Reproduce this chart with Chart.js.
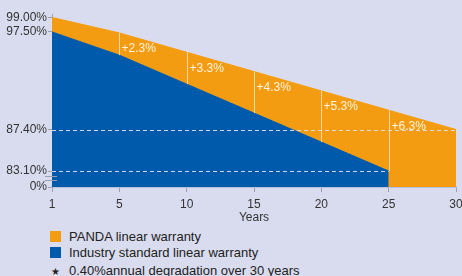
<!DOCTYPE html>
<html>
<head>
<meta charset="utf-8">
<script src="https://cdn.jsdelivr.net/npm/chart.js@4.4.1/dist/chart.umd.min.js"></script>
<style>
  body { margin: 0; background: #d9dcee; font-family: "Liberation Sans", Arial, sans-serif; }
  #wrap { position: relative; width: 462px; height: 276px; overflow: hidden; }
  #box { position: absolute; left: 0; top: 0; width: 462px; height: 225px; }
  .legend { position: absolute; left: 50px; font-size: 13px; color: #222; }
  .legend div { height: 16px; line-height: 16px; white-space: nowrap; }
  .sw { display: inline-block; width: 11px; height: 11px; vertical-align: -1px; margin-right: 8px; }
  .star { display: inline-block; width: 11px; margin-right: 8px; font-size: 10px; text-align: center; }
</style>
</head>
<body>
<div id="wrap">
  <div id="box"><canvas id="chart"></canvas></div>
  <div class="legend" style="top:229px">
    <div><span class="sw" style="background:#f39c12"></span>PANDA linear warranty</div>
    <div><span class="sw" style="background:#005aab"></span>Industry standard linear warranty</div>
    <div style="margin-top:2px"><span class="star">★</span>0.40%annual degradation over 30 years</div>
  </div>
</div>
<script>
// years shown on the x axis
const years = ["1", "5", "10", "15", "20", "25", "30"];
// guaranteed output (%)
const pandaWarranty = [99, 97.4, 95.4, 93.4, 91.4, 89.4, 87.4];
const industryWarranty = [97.5, 95.1, 92.1, 89.1, 86.1, 83.1, null];
// y tick values, the lowest one stands for the broken "0%"
const yTicks = [83.1, 87.4, 97.5, 99];
const yMin = 81.45;
const yMax = 99.36;

const orange = "#f39c12";
const blue = "#005aab";

// dashed guides, differences, axis break
const overlays = {
  id: "overlays",
  afterDatasetsDraw(chart) {
    const ctx = chart.ctx;
    const x = chart.scales.x;
    const y = chart.scales.y;
    const area = chart.chartArea;
    const top = chart.getDatasetMeta(1).data;   // panda
    const low = chart.getDatasetMeta(0).data;   // industry
    ctx.save();

    // dashed lines at the end values
    ctx.strokeStyle = "rgba(215,222,240,0.95)";
    ctx.lineWidth = 1;
    ctx.setLineDash([4, 3]);
    let yy = Math.round(y.getPixelForValue(87.4)) + 0.5;
    ctx.beginPath();
    ctx.moveTo(area.left, yy);
    ctx.lineTo(area.right, yy);
    ctx.stroke();
    yy = Math.round(y.getPixelForValue(83.1)) + 0.5;
    ctx.beginPath();
    ctx.moveTo(area.left, yy);
    ctx.lineTo(x.getPixelForValue(5), yy);
    ctx.stroke();
    ctx.setLineDash([]);

    // vertical dividers and gain labels
    ctx.strokeStyle = "rgba(250,225,180,0.9)";
    ctx.fillStyle = "#fff4e0";
    ctx.font = "12px 'Liberation Sans', Arial, sans-serif";
    ctx.textBaseline = "top";
    for (let i = 1; i < years.length - 1; i++) {
      const px = Math.round(top[i].x) + 0.5;
      ctx.beginPath();
      ctx.moveTo(px, top[i].y);
      ctx.lineTo(px, low[i].y);
      ctx.stroke();
      const gain = (pandaWarranty[i] - industryWarranty[i]).toFixed(1);
      ctx.fillText("+" + gain + "%", px + 2, top[i].y + 10);
    }

    // y axis break marks
    ctx.strokeStyle = "#9aa0b0";
    ctx.lineWidth = 1;
    [area.bottom - 10.5, area.bottom - 6.5].forEach((b) => {
      ctx.beginPath();
      ctx.moveTo(area.left - 7, b);
      ctx.lineTo(area.left + 5, b);
      ctx.stroke();
    });
    ctx.restore();
  },
};

new Chart(document.getElementById("chart"), {
  type: "line",
  data: {
    labels: years,
    datasets: [
      {
        label: "Industry standard linear warranty",
        data: industryWarranty,
        borderColor: blue,
        backgroundColor: blue,
        borderWidth: 1,
        pointRadius: 0,
        fill: "origin",
      },
      {
        label: "PANDA linear warranty",
        data: pandaWarranty,
        borderColor: orange,
        backgroundColor: orange,
        borderWidth: 1,
        pointRadius: 0,
        fill: "origin",
      },
    ],
  },
  options: {
    responsive: true,
    maintainAspectRatio: false,
    animation: false,
    layout: { padding: { top: 14, right: 0, left: 0, bottom: 0 } },
    plugins: { legend: { display: false }, tooltip: { enabled: false } },
    scales: {
      x: {
        type: "category",
        offset: false,
        afterFit(scale) {
          scale.height = 38;
          scale.paddingLeft = 0;
          scale.paddingRight = 6;
        },
        grid: { drawOnChartArea: false, color: "#9aa0b0", tickLength: 5 },
        border: { color: "#b3bfdc", width: 2 },
        ticks: { color: "#333", font: { size: 12 }, padding: 5, maxRotation: 0, autoSkip: false },
        title: { display: true, text: "Years", color: "#333", font: { size: 12 }, padding: { top: 0, bottom: 0 } },
      },
      y: {
        min: yMin,
        max: yMax,
        afterFit(scale) { scale.width = 52; },
        afterBuildTicks(scale) {
          scale.ticks = [yMin].concat(yTicks).map((v) => ({ value: v }));
        },
        grid: { drawOnChartArea: false, color: "#9aa0b0", tickLength: 4 },
        border: { color: "#a0a6b8", width: 1 },
        ticks: {
          color: "#333",
          font: { size: 12 },
          padding: 1,
          callback: (v) => (v === yMin ? "0%" : v.toFixed(2) + "%"),
        },
      },
    },
  },
  plugins: [overlays],
});
</script>
</body>
</html>
